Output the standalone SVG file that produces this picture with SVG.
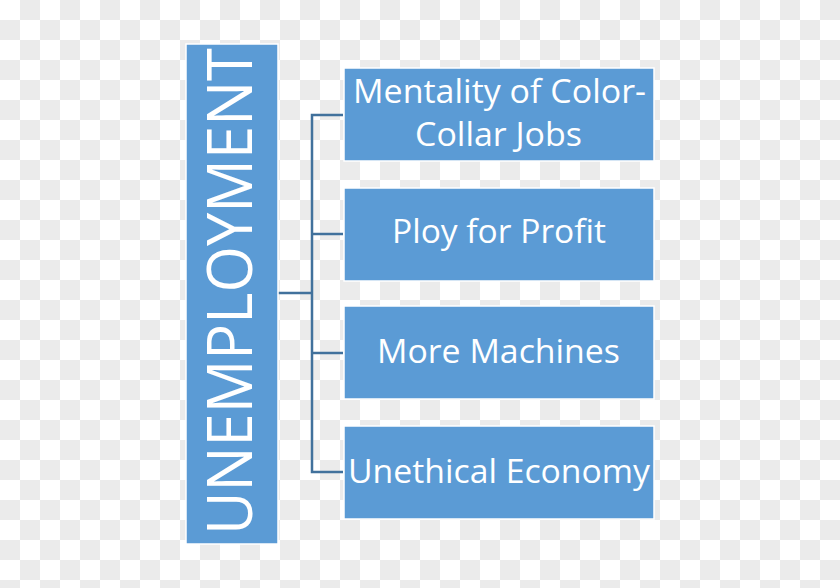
<svg xmlns="http://www.w3.org/2000/svg" width="840" height="588" viewBox="0 0 840 588">
<defs>
<pattern id="chk" x="0" y="0" width="40" height="40" patternUnits="userSpaceOnUse">
<rect width="40" height="40" fill="#ffffff"/>
<rect x="20" y="0" width="20" height="20" fill="#ebebeb"/>
<rect x="0" y="20" width="20" height="20" fill="#ebebeb"/>
</pattern>
<style>
.box{fill:#5b9bd5;stroke:#ffffff;stroke-width:1.5}
.t{font-family:"Open Sans","Liberation Sans",sans-serif;fill:#ffffff;font-size:33px;text-anchor:start}
.main{font-family:"Open Sans","Liberation Sans",sans-serif;fill:#ffffff;font-size:62px}
.c{stroke:#41719c;stroke-width:2.5;fill:none}
</style>
</defs>
<rect width="840" height="588" fill="url(#chk)"/>
<g id="connectors">
<path class="c" d="M278 293 H312"/>
<path class="c" d="M343 115 H312 V472 H343"/>
<path class="c" d="M312 234 H343"/>
<path class="c" d="M312 353 H343"/>
</g>
<g id="unemployment">
<rect class="box" x="186" y="44" width="92" height="500"/>
<text class="main" transform="translate(252,535) rotate(-90)" x="0" y="0" textLength="487" lengthAdjust="spacingAndGlyphs">UNEMPLOYMENT</text>
</g>
<g id="mentality">
<rect class="box" x="344" y="68" width="310" height="93"/>
<text class="t" x="353" y="103" textLength="293" lengthAdjust="spacingAndGlyphs">Mentality of Color-</text>
<text class="t" x="415" y="146" textLength="167" lengthAdjust="spacingAndGlyphs">Collar Jobs</text>
</g>
<g id="ploy">
<rect class="box" x="344" y="188" width="310" height="93"/>
<text class="t" x="392" y="243" textLength="214" lengthAdjust="spacingAndGlyphs">Ploy for Profit</text>
</g>
<g id="machines">
<rect class="box" x="344" y="306" width="310" height="93"/>
<text class="t" x="377" y="363" textLength="243" lengthAdjust="spacingAndGlyphs">More Machines</text>
</g>
<g id="unethical">
<rect class="box" x="344" y="426" width="310" height="93"/>
<text class="t" x="348" y="483" textLength="302" lengthAdjust="spacingAndGlyphs">Unethical Economy</text>
</g>
</svg>
